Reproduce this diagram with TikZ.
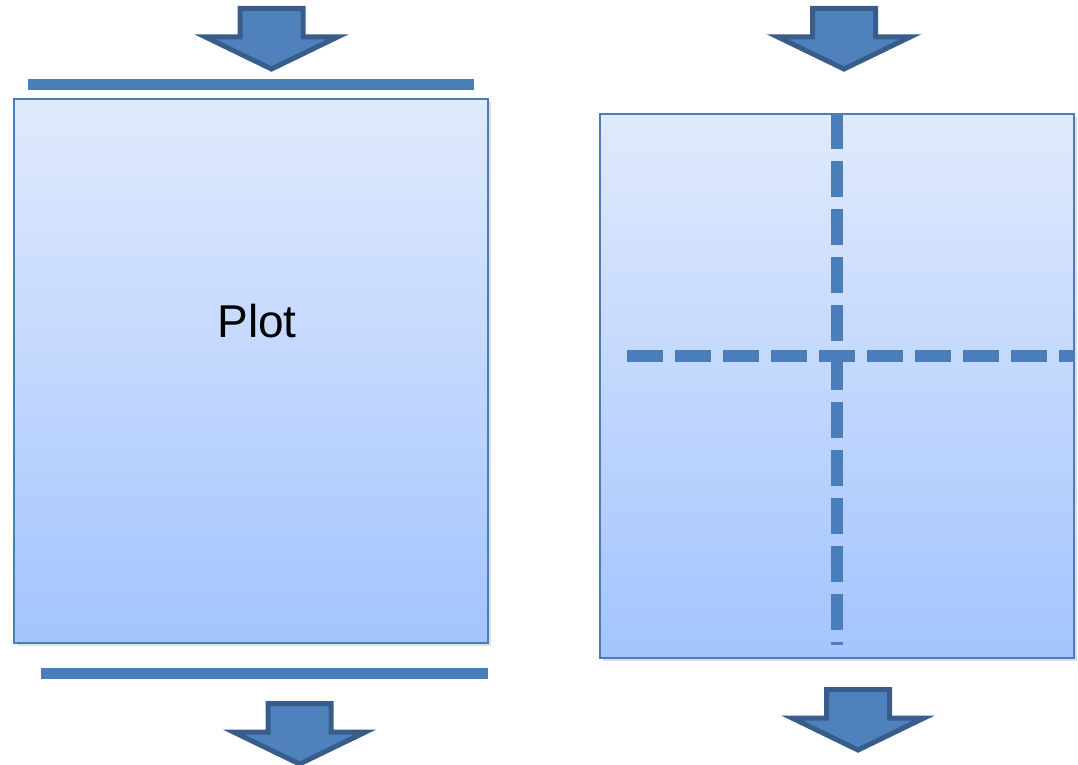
\documentclass[tikz,border=0pt]{standalone}
\usepackage{fontspec}
\setmainfont{Liberation Sans}
\usetikzlibrary{positioning, calc, shadows}

\definecolor{lineblue}{RGB}{74,126,187}
\definecolor{edgeblue}{RGB}{56,93,138}
\definecolor{fillblue}{RGB}{79,129,189}
\definecolor{paneltop}{RGB}{224,234,253}
\definecolor{panelbot}{RGB}{163,196,254}

\tikzstyle{panel} = [rectangle, draw=lineblue, line width=1pt, top color=paneltop,
    bottom color=panelbot, minimum width=237pt, minimum height=271.5pt,
    drop shadow={opacity=0.25, shadow xshift=1.5pt, shadow yshift=-1.5pt}]
\tikzstyle{bar} = [fill=lineblue]
\tikzstyle{cutline} = [draw=lineblue, line width=6pt, dash pattern=on 18pt off 6pt]
\tikzstyle{arrowbody} = [draw=edgeblue, fill=fillblue, line width=2.5pt, line join=miter]
\tikzset{blockarrow/.pic={
    \path[arrowbody] (-31.5,2.5) -- (31.5,2.5) -- (31.5,31) -- (66,31) -- (0,63)
        -- (-66,31) -- (-31.5,31) -- cycle;
}}

\begin{document}
\begin{tikzpicture}[x=0.5pt, y=-0.5pt]
    \useasboundingbox (0,0) rectangle (1078,765);
    % Two panels
    \node [panel] (plot) at (250.5,371) {};
    \node [panel] (grid) at (836.5,386) {};
    \node (label) at (257,321) {\fontsize{23}{27}\selectfont Plot};

    % Bars above and below the plot
    \fill [bar] (28,79) rectangle (474,90);
    \fill [bar] (41,668) rectangle (488,679);

    % Cut lines through the second panel
    \draw [cutline] (grid.north) -- ($(grid.south)+(0,-14)$);
    \draw [cutline] ($(grid.west)+(28,-30)$) -- ($(grid.east)+(0,-30)$);

    % Block arrows
    \pic at (271.5,6) {blockarrow};
    \pic at (844,6) {blockarrow};
    \pic at (299.5,701) {blockarrow};
    \pic at (858,687) {blockarrow};
\end{tikzpicture}
\end{document}
